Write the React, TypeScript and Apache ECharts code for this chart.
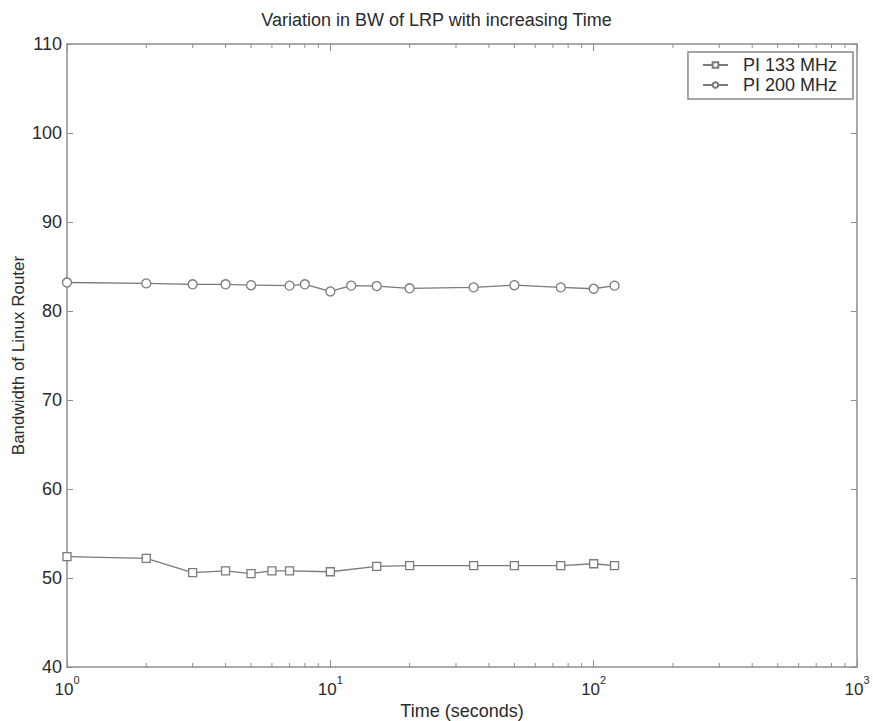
import React, { useEffect, useRef } from "react";
import * as echarts from "echarts";

const titleText = "Variation in BW of LRP with increasing Time";
const xName = "Time (seconds)";
const yName = "Bandwidth of Linux Router";
const seriesNames = ["PI 133 MHz", "PI 200 MHz"];

const t133 = [1, 2, 3, 4, 5, 6, 7, 10, 15, 20, 35, 50, 75, 100, 120];
const bw133 = [52.4, 52.2, 50.6, 50.8, 50.5, 50.8, 50.8, 50.7, 51.3, 51.4, 51.4, 51.4, 51.4, 51.6, 51.4];

const t200 = [1, 2, 3, 4, 5, 7, 8, 10, 12, 15, 20, 35, 50, 75, 100, 120];
const bw200 = [83.2, 83.1, 83.0, 83.0, 82.9, 82.85, 83.0, 82.2, 82.85, 82.8, 82.55, 82.65, 82.9, 82.65, 82.5, 82.85];

const minorTickValues = [2, 3, 4, 5, 6, 7, 8, 9, 20, 30, 40, 50, 60, 70, 80, 90, 200, 300, 400, 500, 600, 700, 800, 900];

const FONT = "'Liberation Sans', Arial, sans-serif";
const AXIS_COLOR = "#8e8e8e";
const LINE_COLOR = "#7a7a7a";
const TEXT_COLOR = "#2a2a2a";

export default function App() {
  const ref = useRef<HTMLDivElement>(null);
  useEffect(() => {
    if (!ref.current) return;
    const chart = echarts.init(ref.current, undefined, { renderer: "svg" });
    const logLabel = {
      color: TEXT_COLOR,
      fontFamily: FONT,
      margin: 7,
      formatter: (v: number) => `{b|10}{s|${Math.round(Math.log10(v))}}`,
      rich: {
        b: { fontSize: 17, fontFamily: FONT, color: TEXT_COLOR, lineHeight: 24, verticalAlign: "bottom" },
        s: { fontSize: 11, fontFamily: FONT, color: TEXT_COLOR, lineHeight: 24, verticalAlign: "top" },
      },
    };
    const option: any = {
      animation: false,
      backgroundColor: "#fff",
      title: {
        text: titleText,
        left: "center",
        top: 6,
        textStyle: { fontSize: 18, fontWeight: "normal", color: TEXT_COLOR, fontFamily: FONT },
      },
      grid: { left: 67, right: 16, top: 44, bottom: 54, containLabel: false, outerBoundsMode: "none" },
      legend: {
        data: seriesNames,
        orient: "vertical",
        right: 20,
        top: 52,
        borderColor: "#888",
        borderWidth: 1.5,
        borderRadius: 0,
        padding: [4, 16, 5, 14],
        itemGap: 2,
        itemWidth: 25,
        itemHeight: 7,
        textStyle: { fontSize: 18, color: TEXT_COLOR, fontFamily: FONT, padding: [0, 0, 0, 10] },
      },
      xAxis: [
        {
          type: "log",
          logBase: 10,
          min: 1,
          max: 1000,
          name: xName,
          nameLocation: "middle",
          nameGap: 35,
          nameMoveOverlap: false,
          nameTextStyle: { fontSize: 18, color: TEXT_COLOR, fontFamily: FONT },
          axisLine: { show: true, lineStyle: { color: AXIS_COLOR, width: 1.5 } },
          axisTick: { show: true, inside: true, length: 7, lineStyle: { color: AXIS_COLOR } },
          axisLabel: logLabel,
          splitLine: { show: false },
        },
        {
          type: "log",
          logBase: 10,
          min: 1,
          max: 1000,
          position: "top",
          axisLine: { show: true, lineStyle: { color: AXIS_COLOR, width: 1.5 } },
          axisTick: { show: true, inside: true, length: 7, lineStyle: { color: AXIS_COLOR } },
          axisLabel: { show: false },
          splitLine: { show: false },
        },
      ],
      yAxis: [
        {
          type: "value",
          min: 40,
          max: 110,
          interval: 10,
          name: yName,
          nameLocation: "middle",
          nameGap: 40,
          nameMoveOverlap: false,
          nameTextStyle: { fontSize: 17, color: TEXT_COLOR, fontFamily: FONT },
          axisLine: { show: true, lineStyle: { color: AXIS_COLOR, width: 1.5 } },
          axisTick: { show: true, inside: true, length: 6, lineStyle: { color: AXIS_COLOR } },
          axisLabel: { fontSize: 18, color: TEXT_COLOR, fontFamily: FONT, margin: 5 },
          splitLine: { show: false },
        },
        {
          type: "value",
          min: 40,
          max: 110,
          interval: 10,
          position: "right",
          axisLine: { show: true, lineStyle: { color: AXIS_COLOR, width: 1.5 } },
          axisTick: { show: true, inside: true, length: 6, lineStyle: { color: AXIS_COLOR } },
          axisLabel: { show: false },
          splitLine: { show: false },
        },
      ],
      series: [
        {
          name: seriesNames[0],
          type: "line",
          data: t133.map((t, i) => [t, bw133[i]]),
          symbol: "rect",
          symbolSize: 8,
          lineStyle: { color: LINE_COLOR, width: 1.3 },
          itemStyle: { color: "#fff", borderColor: LINE_COLOR, borderWidth: 1.3 },
          color: LINE_COLOR,
        },
        {
          name: seriesNames[1],
          type: "line",
          data: t200.map((t, i) => [t, bw200[i]]),
          symbol: "circle",
          symbolSize: 9,
          lineStyle: { color: LINE_COLOR, width: 1.3 },
          itemStyle: { color: "#fff", borderColor: LINE_COLOR, borderWidth: 1.3 },
          color: LINE_COLOR,
        },
        {
          type: "custom",
          silent: true,
          data: minorTickValues.map((v) => [v]),
          renderItem: (_params: any, api: any) => {
            const v = api.value(0);
            const b = api.coord([v, 40]);
            const t = api.coord([v, 110]);
            const style = { stroke: AXIS_COLOR, lineWidth: 1 };
            return {
              type: "group",
              children: [
                { type: "line", shape: { x1: b[0], y1: b[1], x2: b[0], y2: b[1] - 4 }, style },
                { type: "line", shape: { x1: t[0], y1: t[1], x2: t[0], y2: t[1] + 4 }, style },
              ],
            };
          },
        },
      ],
    };
    chart.setOption(option);
    return () => chart.dispose();
  }, []);
  return <div ref={ref} style={{ position: "fixed", left: 0, top: 0, width: 873, height: 721 }} />;
}
